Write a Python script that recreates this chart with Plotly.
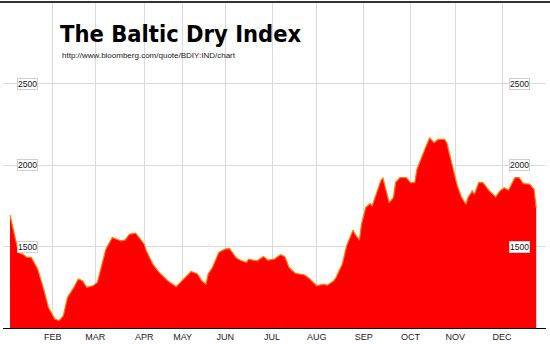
import plotly.graph_objects as go

# Trading-day index (2011) and Baltic Dry Index values
day_index = [0, 2, 4, 6, 8, 10, 13, 16, 18, 21, 23, 25, 27, 30, 32, 34, 36, 39, 41, 43,
             45, 48, 50, 52, 54, 56, 59, 60, 63, 64, 67, 70, 74, 78, 80, 83, 85, 88, 90,
             92, 93, 95, 98, 101, 103, 106, 108, 111, 112, 114, 116, 119, 121, 124, 127,
             129, 131, 134, 138, 140, 143, 144, 147, 149, 152, 153, 156, 158, 161, 162,
             164, 165, 167, 169, 170, 172, 174, 175, 176, 178, 180, 181, 183, 186, 188,
             190, 191, 193, 195, 197, 199, 201, 204, 205, 208, 210, 212, 214, 215, 217,
             218, 220, 222, 225, 228, 230, 232, 234, 237, 239, 241, 244, 246, 247]
bdi = [1692, 1575, 1463, 1453, 1433, 1433, 1361, 1229, 1127, 1055, 1045, 1075, 1188,
       1249, 1300, 1290, 1249, 1259, 1280, 1382, 1484, 1555, 1545, 1535, 1539, 1575,
       1582, 1565, 1514, 1473, 1392, 1341, 1290, 1253, 1280, 1320, 1347, 1331, 1290,
       1269, 1331, 1371, 1463, 1484, 1488, 1433, 1416, 1402, 1422, 1416, 1412, 1439,
       1416, 1422, 1449, 1437, 1371, 1335, 1327, 1310, 1269, 1259, 1269, 1263, 1290,
       1310, 1392, 1504, 1600, 1575, 1539, 1637, 1739, 1763, 1749, 1831, 1902, 1922,
       1871, 1769, 1800, 1892, 1922, 1922, 1892, 1892, 1973, 2045, 2106, 2167, 2137,
       2157, 2157, 2137, 1984, 1871, 1800, 1759, 1800, 1841, 1820, 1892, 1892, 1841,
       1804, 1841, 1861, 1845, 1922, 1922, 1886, 1882, 1851, 1735]

month_start_index = [20, 40, 63, 81, 101, 123, 144, 166, 188, 209, 231]
month_labels = ["FEB", "MAR", "APR", "MAY", "JUN", "JUL", "AUG", "SEP", "OCT", "NOV", "DEC"]
y_ticks = [1500, 2000, 2500]

fig = go.Figure()
fig.add_trace(go.Scatter(
    x=day_index, y=bdi, mode="lines", fill="tozeroy",
    fillcolor="#ff0000", line=dict(color="#ff7a00", width=1.2),
    hoverinfo="skip", showlegend=False))

annotations = []
for v in y_ticks:
    for xp in (0.046, 0.951):
        annotations.append(dict(
            x=xp, xref="paper", y=v, yref="y", text=str(v), showarrow=False,
            font=dict(family="Liberation Sans, Arial", size=8.5, color="#111"),
            bgcolor="white", bordercolor="#cfcfcf", borderwidth=1, borderpad=0,
            xanchor="center", yanchor="middle"))

annotations.append(dict(
    x=0.101, xref="paper", y=0.902, yref="paper", text="<b>The Baltic Dry Index</b>",
    showarrow=False, xanchor="left", yanchor="middle",
    font=dict(family="DejaVu Sans Condensed", size=23.5, color="#000")))
annotations.append(dict(
    x=0.105, xref="paper", y=0.837, yref="paper",
    text="http://www.bloomberg.com/quote/BDIY:IND/chart",
    showarrow=False, xanchor="left", yanchor="middle",
    font=dict(family="Liberation Sans, Arial", size=8, color="#222")))

fig.update_layout(
    width=550, height=344,
    margin=dict(l=3, r=4, t=2, b=16),
    paper_bgcolor="white", plot_bgcolor="white",
    annotations=annotations,
    shapes=[dict(type="line", xref="paper", yref="paper", x0=-0.01, x1=1.01,
                 y0=1.0, y1=1.0, line=dict(color="#333", width=2))],
)
fig.update_xaxes(
    range=[-3.3, 251.6], tickvals=month_start_index, ticktext=month_labels,
    showgrid=True, gridcolor="#dadada", gridwidth=1,
    showline=True, linecolor="#000", linewidth=1, ticks="",
    tickfont=dict(family="Liberation Sans, Arial", size=9, color="#222"),
    zeroline=False)
fig.update_yaxes(
    range=[1000, 3000], tickvals=y_ticks, showticklabels=False,
    showgrid=True, gridcolor="#dadada", gridwidth=1, zeroline=False, showline=False)

fig.write_html("out.html")
